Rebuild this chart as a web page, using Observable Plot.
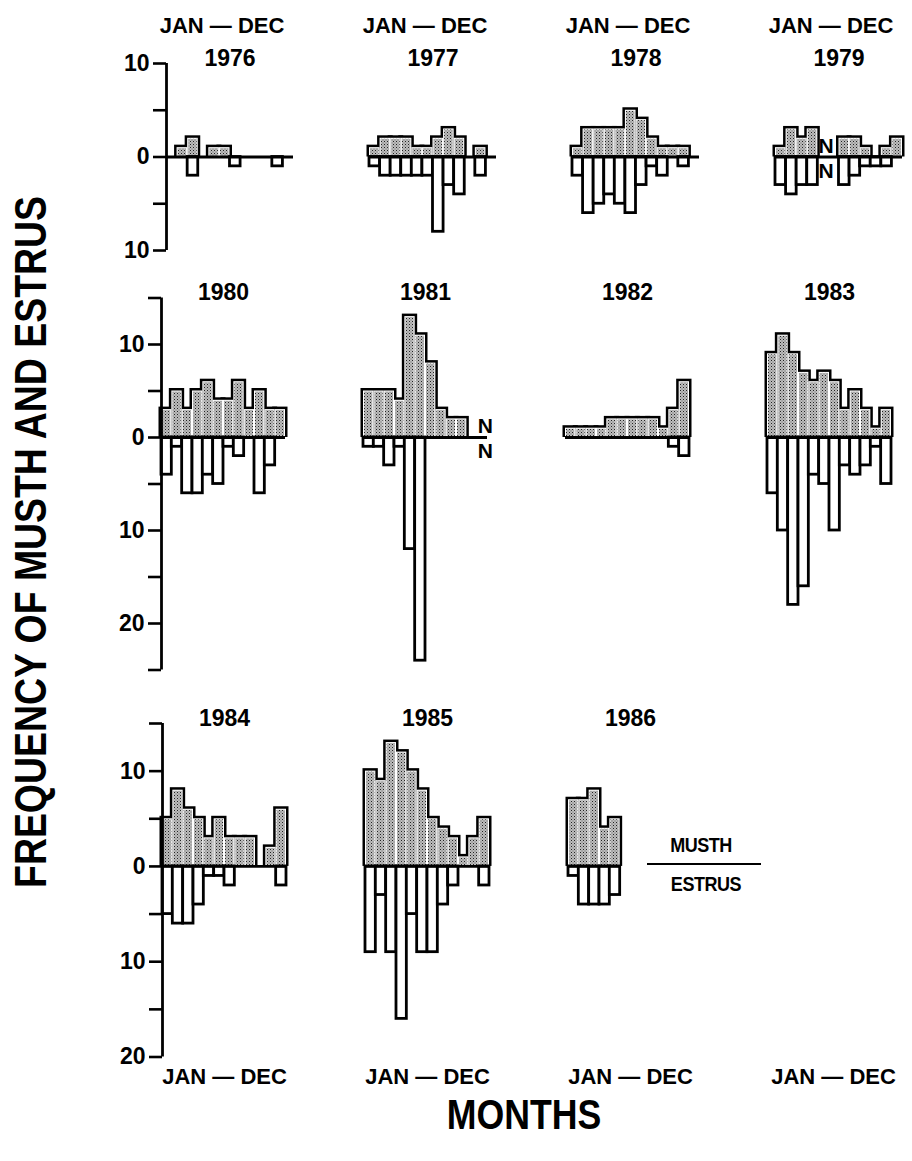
<!DOCTYPE html>
<html><head><meta charset="utf-8">
<script src="https://cdn.jsdelivr.net/npm/d3@7"></script>
<script src="https://cdn.jsdelivr.net/npm/@observablehq/plot@0.6"></script>
<style>
body{margin:0;background:#fff;}
#chart{position:relative;width:912px;height:1161px;background:#fff;font-family:"Liberation Sans",Arial,sans-serif;font-weight:bold;color:#000;overflow:hidden}
#chart svg{position:absolute;left:0}
.ytitle{position:absolute;left:31px;top:542px;transform:translate(-50%,-50%) rotate(-90deg) scaleX(0.85);white-space:nowrap;font-size:44px}
.xtitle{position:absolute;left:524px;top:1115px;transform:translate(-50%,-50%) scaleX(0.85);font-size:42px;white-space:nowrap}
.leg{position:absolute;font-size:20px;transform:translate(-50%,-50%) scaleX(0.9);white-space:nowrap;letter-spacing:-0.5px}
.legline{position:absolute;left:647px;top:863px;width:114px;height:2px;background:#000}
</style></head><body><div id="chart"></div><script>
// ---- data ----
const months = ["JAN","FEB","MAR","APR","MAY","JUN","JUL","AUG","SEP","OCT","NOV","DEC"];
const row1Years = [1976, 1977, 1978, 1979];
const row2Years = [1980, 1981, 1982, 1983];
const row3Years = [1984, 1985, 1986];

const musth1976 = [0,1,2,0,1,1,0,0,0,0,0,0];
const estrus1976 = [0,0,2,0,0,0,1,0,0,0,1,0];
const musth1977 = [1,2,2,2,1,1,2,3,2,0,1,0];
const estrus1977 = [1,2,2,2,2,2,8,3,4,0,2,0];
const musth1978 = [1,3,3,3,3,5,4,2,1,1,1,0];
const estrus1978 = [2,6,5,4,5,6,3,1,2,0,1,0];
const musth1979 = [1,3,2,3,0,0,2,2,1,0,1,2];
const estrus1979 = [3,4,3,3,0,0,3,2,1,1,1,0];
const musth1980 = [3,5,3,5,6,4,4,6,3,5,3,3];
const estrus1980 = [4,1,6,6,4,5,1,2,0,6,3,0];
const musth1981 = [5,5,5,4,13,11,8,3,2,2,0,0];
const estrus1981 = [1,1,3,1,12,24,0,0,0,0,0,0];
const musth1982 = [1,1,1,1,2,2,2,2,2,1,3,6];
const estrus1982 = [0,0,0,0,0,0,0,0,0,0,1,2];
const musth1983 = [9,11,9,7,6,7,6,3,5,3,1,3];
const estrus1983 = [6,10,18,16,4,5,10,3,4,3,1,5];
const musth1984 = [5,8,6,5,3,5,3,3,3,0,2,6];
const estrus1984 = [5,6,6,4,1,1,2,0,0,0,0,2];
const musth1985 = [10,9,13,12,10,8,5,4,3,1,3,5];
const estrus1985 = [9,3,9,16,5,9,9,4,2,0,0,2];
const musth1986 = [7,7,8,4,5];
const estrus1986 = [1,4,4,4,3];

const noDataYears = [1979, 1981];
const noDataMonths = ["MAY", "DEC"];
const periodLabel = "JAN \u2014 DEC";
const ticksRow1 = [10,5,0,-5,-10];
const ticksRow2 = [15,10,5,0,-5,-10,-15,-20,-25];
const ticksRow3 = [15,10,5,0,-5,-10,-15,-20];
const labeledTicks = [10,0,-10,-20];

const musthByYear = new Map([[1976,musth1976],[1977,musth1977],[1978,musth1978],[1979,musth1979],[1980,musth1980],[1981,musth1981],[1982,musth1982],[1983,musth1983],[1984,musth1984],[1985,musth1985],[1986,musth1986]]);
const estrusByYear = new Map([[1976,estrus1976],[1977,estrus1977],[1978,estrus1978],[1979,estrus1979],[1980,estrus1980],[1981,estrus1981],[1982,estrus1982],[1983,estrus1983],[1984,estrus1984],[1985,estrus1985],[1986,estrus1986]]);

const FONT = "Liberation Sans, Arial, Helvetica, sans-serif";

function rowPlot(cfg) {
  const musthRows = [], estrusRows = [], baseRows = [];
  for (const year of cfg.years) {
    const m = musthByYear.get(year), e = estrusByYear.get(year);
    m.forEach((v, i) => { if (v > 0) musthRows.push({year, month: i, value: v}); });
    e.forEach((v, i) => { if (v > 0) estrusRows.push({year, month: i, value: -v}); });
    baseRows.push({year, n: m.length});
  }
  const nRows = noDataYears.map((year, k) => ({year, month: months.indexOf(noDataMonths[k])}))
    .filter(d => cfg.years.includes(d.year));
  const bar = {fx: "year", x1: "month", x2: d => d.month + 1, y1: 0, y2: "value"};
  const marks = [
    Plot.rect(musthRows, {...bar, fill: "black", insetLeft: -2.5, insetRight: -2.5, insetTop: -2.5}),
    Plot.rect(musthRows, {...bar, fill: "white"}),
    Plot.rect(musthRows, {...bar, fill: `url(#${cfg.pid})`, insetLeft: 1, insetRight: 1, insetTop: 1}),
    Plot.rect(estrusRows, {...bar, fill: "white", stroke: "black", strokeWidth: 2.8}),
    Plot.ruleY(baseRows, {fx: "year", x1: 0, x2: "n", y: 0, stroke: "black", strokeWidth: 2.8}),
    Plot.ruleX([cfg.years[0]], {fx: d => d, x: 0, y1: cfg.yDomain[0], y2: cfg.yDomain[1], stroke: "black", strokeWidth: 2.8}),
    Plot.axisY({ticks: cfg.ticks, tickSize: 13, tickPadding: 4, strokeWidth: 2.6, fontSize: 23, fontWeight: "bold", label: null,
      tickFormat: d => labeledTicks.includes(d) ? String(Math.abs(d)) : ""}),
    Plot.text(cfg.years, {fx: d => d, text: d => String(d), frameAnchor: "top", lineAnchor: "middle", dy: -5, fontSize: 23, fontWeight: "bold"}),
    Plot.text(nRows, {fx: "year", x: d => d.month + 0.5, y: 0, text: () => "N", dx: 3, dy: -11, fontSize: 21, fontWeight: "bold"}),
    Plot.text(nRows, {fx: "year", x: d => d.month + 0.5, y: 0, text: () => "N", dx: 3, dy: 14, fontSize: 21, fontWeight: "bold"})
  ];
  if (cfg.topLabel) marks.push(Plot.text(cfg.slots, {fx: d => d, text: () => periodLabel, frameAnchor: "top", lineAnchor: "middle", dy: -38, dx: -8, fontSize: 22, fontWeight: "bold"}));
  if (cfg.bottomLabel) marks.push(Plot.text(cfg.slots, {fx: d => d, text: () => periodLabel, frameAnchor: "bottom", lineAnchor: "middle", dy: 20, fontSize: 22, fontWeight: "bold"}));
  const svg = Plot.plot({
    width: 912, height: cfg.height,
    marginTop: cfg.marginTop, marginBottom: cfg.marginBottom, marginLeft: cfg.marginLeft, marginRight: cfg.marginRight,
    facet: {marginTop: 0, marginRight: 0, marginBottom: 0, marginLeft: 0},
    fx: {domain: cfg.slots, axis: null, paddingInner: cfg.pad, paddingOuter: 0},
    x: {domain: [0, 12], axis: null},
    y: {domain: cfg.yDomain},
    style: {fontFamily: FONT, fontWeight: "bold", background: "transparent", color: "black"},
    marks
  });
  const defs = d3.select(svg).insert("defs", ":first-child");
  const p = defs.append("pattern").attr("id", cfg.pid).attr("width", 3).attr("height", 3).attr("patternUnits", "userSpaceOnUse");
  p.append("rect").attr("width", 3).attr("height", 3).attr("fill", "#bdbdbd");
  p.append("rect").attr("width", 1).attr("height", 1).attr("fill", "#222");
  p.append("rect").attr("x", 1.5).attr("y", 1.5).attr("width", 1).attr("height", 1).attr("fill", "#666");
  svg.style.top = cfg.top + "px";
  return svg;
}

const chart = document.getElementById("chart");
chart.appendChild(rowPlot({years: row1Years, slots: row1Years, yDomain: [-10, 10], ticks: ticksRow1, top: 0, height: 265,
  marginTop: 63, marginBottom: 15, marginLeft: 165, marginRight: 9, pad: 0.3765, pid: "stip1", topLabel: true}));
chart.appendChild(rowPlot({years: row2Years, slots: row2Years, yDomain: [-25, 15], ticks: ticksRow2, top: 270, height: 410,
  marginTop: 27.5, marginBottom: 10.5, marginLeft: 161, marginRight: 20.5, pad: 0.3837, pid: "stip2"}));
chart.appendChild(rowPlot({years: row3Years, slots: [...row3Years, "pad"], yDomain: [-20, 15], ticks: ticksRow3, top: 690, height: 407,
  marginTop: 33, marginBottom: 40.5, marginLeft: 162, marginRight: 16.5, pad: 0.3916, pid: "stip3", bottomLabel: true}));

function addText(cls, text, style) {
  const d = document.createElement("div");
  d.className = cls; d.textContent = text;
  Object.assign(d.style, style || {});
  chart.appendChild(d);
}
addText("ytitle", "FREQUENCY OF MUSTH AND ESTRUS");
addText("xtitle", "MONTHS");
addText("leg", "MUSTH", {left: "701px", top: "845px"});
addText("leg", "ESTRUS", {left: "706px", top: "884px"});
addText("legline", "");
</script></body></html>
